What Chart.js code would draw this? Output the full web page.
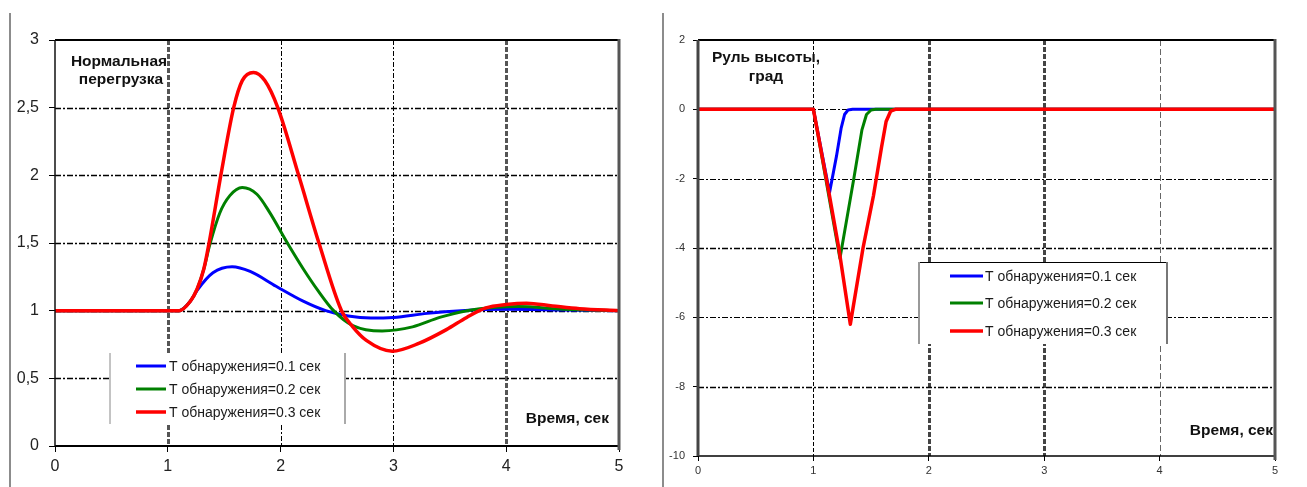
<!DOCTYPE html>
<html><head><meta charset="utf-8">
<script src="https://cdn.jsdelivr.net/npm/chart.js@4.4.1/dist/chart.umd.min.js"></script>
<style>
html,body{margin:0;padding:0;background:#fff;width:1307px;height:487px;overflow:hidden}
#c1{position:absolute;left:0;top:0}
#c2{position:absolute;left:650px;top:0}
</style></head><body>
<canvas id="c1" width="650" height="487"></canvas>
<canvas id="c2" width="657" height="487"></canvas>
<script>
// ---------- data ----------
const seriesLabels = ['T обнаружения=0.1 сек', 'T обнаружения=0.2 сек', 'T обнаружения=0.3 сек'];
const seriesColors = ['#0000ff', '#008000', '#ff0000'];

const xTickLabels = ['0', '1', '2', '3', '4', '5'];
const leftYTickLabels = ['0', '0,5', '1', '1,5', '2', '2,5', '3'];
const rightYTickLabels = ['-10', '-8', '-6', '-4', '-2', '0', '2'];

// Left: normal load factor
const nzBlueT = [0, 1.0, 1.1, 1.2, 1.26, 1.4, 1.57, 1.73, 1.96, 2.2, 2.4, 2.6, 2.8, 3.0, 3.3, 3.6, 4.0, 4.5, 5.0];
const nzBlueV = [1, 1, 1.0, 1.07, 1.15, 1.28, 1.325, 1.29, 1.18, 1.07, 1.0, 0.96, 0.945, 0.95, 0.98, 1.0, 1.01, 1.005, 1.0];

const nzGreenT = [0, 1.0, 1.1, 1.2, 1.26, 1.32, 1.37, 1.46, 1.55, 1.66, 1.79, 1.9, 2.06, 2.2, 2.33, 2.47, 2.64, 2.9, 3.17, 3.41, 3.65, 3.91, 4.11, 4.5, 5.0];
const nzGreenV = [1, 1, 1.0, 1.07, 1.16, 1.31, 1.48, 1.72, 1.85, 1.91, 1.86, 1.73, 1.5, 1.31, 1.15, 1.0, 0.89, 0.85, 0.88, 0.95, 1.0, 1.025, 1.03, 1.01, 1.0];

const nzRedT = [0, 1.0, 1.1, 1.2, 1.26, 1.32, 1.366, 1.47, 1.584, 1.66, 1.76, 1.86, 1.975, 2.16, 2.34, 2.54, 2.64, 2.76, 2.99, 3.23, 3.47, 3.65, 3.82, 4.0, 4.18, 4.41, 4.65, 5.0];
const nzRedV = [1, 1, 1.0, 1.07, 1.16, 1.31, 1.5, 2.0, 2.5, 2.7, 2.76, 2.7, 2.5, 2.0, 1.5, 1.0, 0.88, 0.78, 0.70, 0.76, 0.86, 0.95, 1.02, 1.045, 1.055, 1.035, 1.015, 1.0];

// Right: elevator, deg
const elBlueT = [0, 1.0, 1.14, 1.2, 1.24, 1.27, 1.3, 1.34, 5.0];
const elBlueV = [0, 0, -2.4, -1.35, -0.55, -0.15, -0.02, 0, 0];

const elGreenT = [0, 1.0, 1.23, 1.35, 1.42, 1.46, 1.5, 1.54, 5.0];
const elGreenV = [0, 0, -4.3, -2.0, -0.6, -0.15, -0.02, 0, 0];

const elRedT = [0, 1.0, 1.14, 1.22, 1.32, 1.43, 1.52, 1.59, 1.63, 1.67, 1.71, 5.0];
const elRedV = [0, 0, -2.5, -4.0, -6.2, -4.0, -2.5, -1.1, -0.35, -0.05, 0, 0];

// ---------- helpers ----------
const FONT = "'Liberation Sans', Arial, sans-serif";
function pts(t, v) { return t.map((x, i) => ({ x: x, y: v[i] })); }
function seg(ctx, x1, y1, x2, y2, c, w, d) {
  ctx.save(); ctx.beginPath(); ctx.strokeStyle = c; ctx.lineWidth = w;
  ctx.setLineDash(d || []); ctx.moveTo(x1, y1); ctx.lineTo(x2, y2); ctx.stroke(); ctx.restore();
}

const framePlugin = {
  id: 'excelFrame',
  beforeDatasetsDraw(chart, args, o) {
    const ctx = chart.ctx, a = chart.chartArea, xs = chart.scales.x, ys = chart.scales.y;
    o.vGrid.forEach(g => { const px = Math.round(xs.getPixelForValue(g.v)) + 0.5; seg(ctx, px, a.top, px, a.bottom, g.c, g.w, g.d); });
    o.hGrid.forEach(g => { const py = Math.round(ys.getPixelForValue(g.v)) + 0.5; seg(ctx, a.left, py, a.right, py, g.c, g.w, g.d); });
  },
  afterDatasetsDraw(chart, args, o) {
    const ctx = chart.ctx, a = chart.chartArea, b = o.border;
    seg(ctx, a.left, a.top, a.right, a.top, b.top[0], b.top[1]);
    seg(ctx, a.left, a.bottom, a.right + 1, a.bottom, b.bottom[0], b.bottom[1]);
    seg(ctx, a.left, a.top, a.left, a.bottom, b.left[0], b.left[1]);
    seg(ctx, a.right, a.top - 1, a.right, a.bottom + 4, b.right[0], b.right[1]);
    // outer frame edge
    seg(ctx, o.outerX, 13, o.outerX, 487, '#666', 1.5);
    // legend
    const L = o.legend;
    ctx.save();
    ctx.fillStyle = '#fff';
    ctx.fillRect(L.x1, L.y1, L.x2 - L.x1, L.y2 - L.y1);
    ctx.restore();
    if (L.top) seg(ctx, L.x1, L.y1 + 0.5, L.x2, L.y1 + 0.5, L.top[0], L.top[1]);
    seg(ctx, L.x1, L.y1, L.x1, L.y2, L.left[0], L.left[1]);
    seg(ctx, L.x2, L.y1, L.x2, L.y2, L.right[0], L.right[1]);
    chart.data.datasets.forEach((ds, i) => {
      const yy = L.rows[i];
      seg(ctx, L.lx1, yy, L.lx2, yy, ds.borderColor, ds.borderWidth);
      ctx.save();
      ctx.fillStyle = '#1a1a1a'; ctx.font = L.font; ctx.textBaseline = 'middle'; ctx.textAlign = 'left';
      ctx.fillText(ds.label, L.tx, yy + 1);
      ctx.restore();
    });
    // annotation texts
    o.texts.forEach(t => {
      ctx.save();
      ctx.fillStyle = '#111'; ctx.font = t.font; ctx.textBaseline = 'middle'; ctx.textAlign = t.align;
      ctx.fillText(t.s, t.x, t.y);
      ctx.restore();
    });
  }
};

function makeDatasets(list, widths, tensionMode) {
  return list.map((d, i) => Object.assign({
    label: seriesLabels[i],
    data: d,
    borderColor: seriesColors[i],
    borderWidth: widths[i],
    pointRadius: 0,
    fill: false,
    order: 3 - i,
    borderCapStyle: 'round',
    borderJoinStyle: 'round'
  }, tensionMode));
}

const TITLE_FONT = 'bold 15.5px ' + FONT;
const LEGEND_FONT = '14px ' + FONT;

// ---------- left chart ----------
new Chart(document.getElementById('c1'), {
  type: 'line',
  data: {
    datasets: makeDatasets([pts(nzBlueT, nzBlueV), pts(nzGreenT, nzGreenV), pts(nzRedT, nzRedV)], [3, 3, 3.5], { cubicInterpolationMode: 'monotone' })
  },
  options: {
    responsive: false, animation: false, events: [],
    layout: { padding: { left: 0, top: 40, right: 31, bottom: 0 } },
    scales: {
      x: {
        type: 'linear', min: 0, max: 5,
        afterFit: s => { s.height = 41; },
        ticks: { stepSize: 1, color: '#222', padding: 5, font: { family: FONT, size: 16 }, callback: (v, i) => xTickLabels[i] },
        grid: { drawOnChartArea: false, color: '#000', tickLength: 6 },
        border: { display: false }
      },
      y: {
        type: 'linear', min: 0, max: 3,
        afterFit: s => { s.width = 55; },
        ticks: { stepSize: 0.5, color: '#222', padding: 10, font: { family: FONT, size: 16 }, callback: (v, i) => leftYTickLabels[i] },
        grid: { drawOnChartArea: false, color: '#000', tickLength: 6 },
        border: { display: false }
      }
    },
    plugins: {
      legend: { display: false }, tooltip: { enabled: false },
      excelFrame: {
        vGrid: [
          { v: 1, c: '#555', w: 3, d: [5, 2] },
          { v: 2, c: '#000', w: 1, d: [5, 2, 2, 2] },
          { v: 3, c: '#000', w: 1, d: [5, 2, 2, 2] },
          { v: 4, c: '#555', w: 3, d: [5, 2] }
        ],
        hGrid: [
          { v: 0.5, c: '#000', w: 1.3, d: [6, 2, 2, 2] },
          { v: 1, c: '#000', w: 1.3, d: [6, 2, 2, 2] },
          { v: 1.5, c: '#000', w: 1.3, d: [6, 2, 2, 2] },
          { v: 2, c: '#000', w: 1.3, d: [6, 2, 2, 2] },
          { v: 2.5, c: '#000', w: 1.3, d: [6, 2, 2, 2] }
        ],
        border: { top: ['#000', 2], bottom: ['#000', 2], left: ['#111', 1.5], right: ['#555', 3] },
        outerX: 10,
        legend: {
          x1: 110, y1: 353, x2: 345, y2: 424,
          left: ['#888', 1], right: ['#aaa', 2],
          lx1: 136, lx2: 166, tx: 169, rows: [366, 389, 412],
          font: LEGEND_FONT
        },
        texts: [
          { s: 'Нормальная', x: 119, y: 62, align: 'center', font: TITLE_FONT },
          { s: 'перегрузка', x: 121, y: 80, align: 'center', font: TITLE_FONT },
          { s: 'Время, сек', x: 609, y: 419, align: 'right', font: TITLE_FONT }
        ]
      }
    }
  },
  plugins: [framePlugin]
});

// ---------- right chart ----------
new Chart(document.getElementById('c2'), {
  type: 'line',
  data: {
    datasets: makeDatasets([pts(elBlueT, elBlueV), pts(elGreenT, elGreenV), pts(elRedT, elRedV)], [3, 3, 3.5], { tension: 0 })
  },
  options: {
    responsive: false, animation: false, events: [],
    layout: { padding: { left: 0, top: 40, right: 32, bottom: 0 } },
    scales: {
      x: {
        type: 'linear', min: 0, max: 5,
        afterFit: s => { s.height = 31; },
        ticks: { stepSize: 1, color: '#333', padding: 3, font: { family: FONT, size: 11 }, callback: (v, i) => xTickLabels[i] },
        grid: { drawOnChartArea: false, color: '#000', tickLength: 5 },
        border: { display: false }
      },
      y: {
        type: 'linear', min: -10, max: 2,
        afterFit: s => { s.width = 48; },
        ticks: { stepSize: 2, color: '#333', padding: 8, font: { family: FONT, size: 11 }, callback: (v, i) => rightYTickLabels[i] },
        grid: { drawOnChartArea: false, color: '#000', tickLength: 5 },
        border: { display: false }
      }
    },
    plugins: {
      legend: { display: false }, tooltip: { enabled: false },
      excelFrame: {
        vGrid: [
          { v: 1, c: '#000', w: 1, d: [4, 2] },
          { v: 2, c: '#444', w: 3, d: [5, 2] },
          { v: 3, c: '#444', w: 3, d: [5, 2] },
          { v: 4, c: '#666', w: 1, d: [6, 3] }
        ],
        hGrid: [
          { v: 0, c: '#000', w: 1, d: [6, 2, 2, 2] },
          { v: -2, c: '#000', w: 1, d: [6, 2, 2, 2] },
          { v: -4, c: '#000', w: 1.6, d: [6, 2, 2, 2] },
          { v: -6, c: '#000', w: 1, d: [6, 2, 2, 2] },
          { v: -8, c: '#000', w: 1.6, d: [6, 2, 2, 2] }
        ],
        border: { top: ['#000', 2], bottom: ['#000', 1.5], left: ['#444', 3], right: ['#555', 3] },
        outerX: 13,
        legend: {
          x1: 269, y1: 262, x2: 517, y2: 344,
          top: ['#000', 1], left: ['#999', 2], right: ['#777', 2],
          lx1: 300, lx2: 333, tx: 335, rows: [276, 303, 331],
          font: LEGEND_FONT
        },
        texts: [
          { s: 'Руль высоты,', x: 116, y: 58, align: 'center', font: TITLE_FONT },
          { s: 'град', x: 116, y: 77, align: 'center', font: TITLE_FONT },
          { s: 'Время, сек', x: 623, y: 431, align: 'right', font: TITLE_FONT }
        ]
      }
    }
  },
  plugins: [framePlugin]
});
</script>
</body></html>
